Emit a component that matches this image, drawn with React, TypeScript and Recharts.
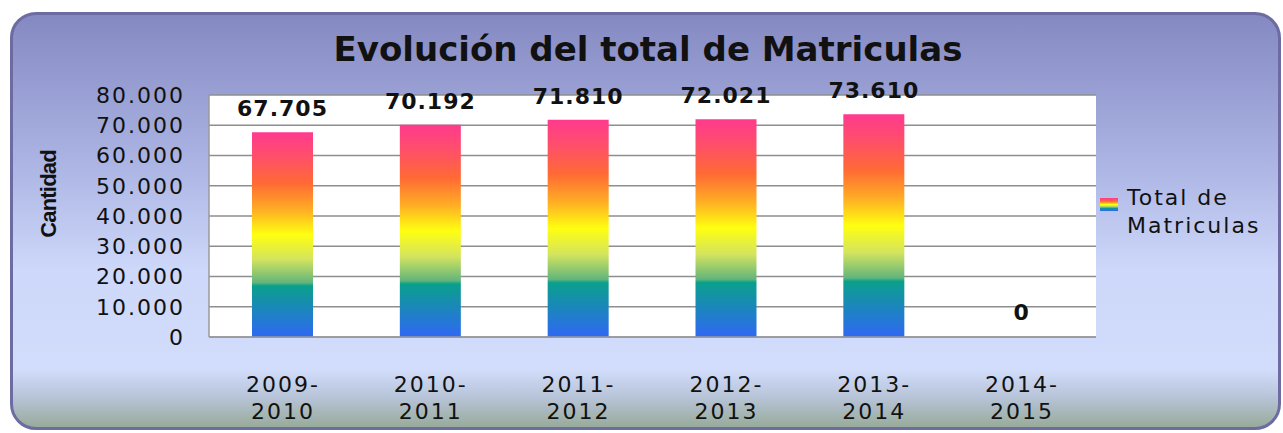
import React from 'react'
import {
  BarChart, Bar, XAxis, YAxis, CartesianGrid, Legend, LabelList, Cell,
} from 'recharts'

const periods = ['2009-2010', '2010-2011', '2011-2012', '2012-2013', '2013-2014', '2014-2015']
const matriculas = [67705, 70192, 71810, 72021, 73610, 0]
const yTicks = [0, 10000, 20000, 30000, 40000, 50000, 60000, 70000, 80000]

const data = periods.map((p, i) => ({ periodo: p, total: matriculas[i] }))

// miles con punto, estilo es-ES
const fmt = (v: number) => String(Math.round(v)).replace(/\B(?=(\d{3})+(?!\d))/g, '.')

const FONT = '"DejaVu Sans", Verdana, sans-serif'

const rainbow = [
  ['0', '#ff3a8e'],
  ['0.12', '#ff4f6a'],
  ['0.25', '#ff6a34'],
  ['0.38', '#ffae24'],
  ['0.5', '#ffff10'],
  ['0.62', '#d4e45e'],
  ['0.735', '#62b47c'],
  ['0.75', '#0aa08c'],
  ['1', '#2f68f4'],
]

function PeriodTick(props: any) {
  const { x, payload } = props
  const [a, b] = String(payload.value).split('-')
  return (
    <text x={x} textAnchor="middle" fill="#111" fontSize={22} letterSpacing={2} fontFamily={FONT}>
      <tspan x={x} y={392}>{a}-</tspan>
      <tspan x={x} y={419}>{b}</tspan>
    </text>
  )
}

// etiqueta sobre la barra, tambien para el valor 0
function ValueLabel(props: any) {
  const { x, y, width, height, value } = props
  if (value == null) return null
  const top = Math.min(Number(y), Number(y) + Number(height))
  return (
    <text
      x={Number(x) + Number(width) / 2}
      y={top - 16}
      textAnchor="middle"
      fill="#111"
      fontSize={22}
      fontWeight={700}
      letterSpacing={1}
      fontFamily={FONT}
    >
      {fmt(Number(value))}
    </text>
  )
}

function LegendBox() {
  return (
    <div style={{ position: 'relative', width: 180, height: 60, fontFamily: FONT, fontSize: 22, letterSpacing: 2, color: '#111' }}>
      <svg width={18} height={13} style={{ position: 'absolute', left: 0, top: 14 }}>
        <rect x={0} y={0} width={18} height={13} fill="url(#arcoiris)" />
      </svg>
      <div style={{ position: 'absolute', left: 27, top: 0, lineHeight: '28px' }}>
        Total de<br />Matriculas
      </div>
    </div>
  )
}

export default function App() {
  return (
    <div style={{ position: 'absolute', left: 0, top: 0, width: 1283, height: 433, overflow: 'hidden', background: '#fff' }}>
      <div
        style={{
          position: 'absolute', left: 10, top: 12, width: 1271, height: 418,
          boxSizing: 'border-box', border: '3px solid #6c6ca2', borderRadius: 26,
          background: 'linear-gradient(to bottom, #8589c2 0%, #aab3e2 35%, #cdd8fa 62%, #d2ddfc 86%, #b6c3d6 93%, #98ab9a 100%)',
        }}
      />
      <svg width={0} height={0} style={{ position: 'absolute' }}>
        <defs>
          <linearGradient id="arcoiris" x1="0" y1="0" x2="0" y2="1">
            {rainbow.map(([o, c]) => <stop key={o} offset={o} stopColor={c} />)}
          </linearGradient>
        </defs>
      </svg>
      <div style={{
        position: 'absolute', left: 0, width: 1296, top: 29, textAlign: 'center',
        fontFamily: FONT, fontWeight: 700, fontSize: 34, lineHeight: '40px', color: '#111',
      }}>
        Evolución del total de Matriculas
      </div>
      <div style={{
        position: 'absolute', left: 49, top: 194, transform: 'translate(-50%, -50%) rotate(-90deg)',
        fontFamily: '"Liberation Sans", Arial, sans-serif', fontWeight: 700, fontSize: 22,
        letterSpacing: -0.8, color: '#111', whiteSpace: 'nowrap',
      }}>
        Cantidad
      </div>
      <div style={{ position: 'absolute', left: 0, top: 0 }}>
        <BarChart
          width={1283}
          height={433}
          data={data}
          margin={{ top: 95, right: 187, bottom: 66, left: 0 }}
          style={{ fontFamily: FONT }}
        >
          <CartesianGrid vertical={false} stroke="#8e8e8e" fill="#ffffff" strokeWidth={1.3} />
          <XAxis
            dataKey="periodo"
            height={30}
            tick={<PeriodTick />}
            tickLine={false}
            axisLine={{ stroke: '#9a9a9a', strokeWidth: 1.5 }}
            interval={0}
          />
          <YAxis
            width={209}
            domain={[0, 80000]}
            ticks={yTicks}
            interval={0}
            tickFormatter={fmt}
            tickLine={false}
            tickMargin={18}
            axisLine={{ stroke: '#9a9a9a', strokeWidth: 1.5 }}
            tick={{ fill: '#111', fontSize: 22, letterSpacing: 2, fontFamily: FONT }}
          />
          <Legend
            layout="vertical"
            align="center"
            verticalAlign="middle"
            wrapperStyle={{ left: 1100, top: 184, width: 180 }}
            content={() => <LegendBox />}
          />
          <Bar
            dataKey="total"
            name="Total de Matriculas"
            fill="url(#arcoiris)"
            barSize={61}
            minPointSize={1}
            isAnimationActive={false}
          >
            {matriculas.map((v, i) => (
              <Cell key={i} fill={v === 0 ? 'transparent' : 'url(#arcoiris)'} />
            ))}
            <LabelList dataKey="total" content={<ValueLabel />} />
          </Bar>
        </BarChart>
      </div>
    </div>
  )
}
